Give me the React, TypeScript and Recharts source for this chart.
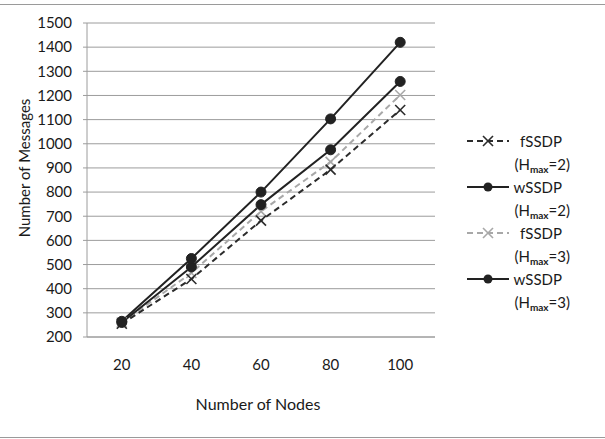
import React from "react";
import { LineChart, Line, XAxis, YAxis, CartesianGrid } from "recharts";

// values
const nodes = [20, 40, 60, 80, 100];
const fssdpH2 = [255, 440, 682, 893, 1140];
const wssdpH2 = [260, 490, 748, 975, 1258];
const fssdpH3 = [260, 465, 720, 925, 1202];
const wssdpH3 = [265, 525, 800, 1103, 1420];

const yTicks = [200, 300, 400, 500, 600, 700, 800, 900, 1000, 1100, 1200, 1300, 1400, 1500];
const xTicks = [20, 40, 60, 80, 100];
// Excel puts the x tick marks between the categories
const xBoundaries = [10, 30, 50, 70, 90, 110];

const FONT = "Lato, 'Open Sans', sans-serif";
const TEXT = "#1a1a1a";

const data = nodes.map((n, i) => ({
  nodes: n,
  f2: fssdpH2[i],
  w2: wssdpH2[i],
  f3: fssdpH3[i],
  w3: wssdpH3[i],
}));

const series = [
  { key: "f2", name: "fSSDP", sub: "=2)", color: "#2b2b2b", dash: "6 4", marker: "x" },
  { key: "w2", name: "wSSDP", sub: "=2)", color: "#222222", dash: undefined, marker: "o" },
  { key: "f3", name: "fSSDP", sub: "=3)", color: "#a8a8a8", dash: "6 4", marker: "x" },
  { key: "w3", name: "wSSDP", sub: "=3)", color: "#222222", dash: undefined, marker: "o" },
];

const XDot = (props: any) => {
  const { cx, cy, stroke, index } = props;
  if (cx == null || cy == null) return null;
  const s = 5;
  return (
    <g key={`x-${index}`}>
      <line x1={cx - s} y1={cy - s} x2={cx + s} y2={cy + s} stroke={stroke} strokeWidth={1.6} />
      <line x1={cx - s} y1={cy + s} x2={cx + s} y2={cy - s} stroke={stroke} strokeWidth={1.6} />
    </g>
  );
};

const YTitle = ({ viewBox }: any) => {
  const x = viewBox.x + 24;
  const y = viewBox.y + viewBox.height / 2 - 12;
  return (
    <text
      x={x}
      y={y}
      transform={`rotate(-90 ${x} ${y})`}
      textAnchor="middle"
      dominantBaseline="central"
      fontFamily={FONT}
      fontSize={15}
      fill={TEXT}
    >
      Number of Messages
    </text>
  );
};

const XTitle = ({ viewBox }: any) => (
  <text
    x={viewBox.x + viewBox.width / 2 - 3}
    y={viewBox.y + 66}
    textAnchor="middle"
    dominantBaseline="central"
    fontFamily={FONT}
    fontSize={16}
    fill={TEXT}
  >
    Number of Nodes
  </text>
);

const Sample = ({ color, dash, marker }: any) => (
  <svg width={44} height={14} style={{ display: "block" }}>
    <line x1={1} y1={7} x2={43} y2={7} stroke={color} strokeWidth={2} strokeDasharray={dash} />
    {marker === "o" ? (
      <circle cx={22} cy={7} r={4.5} fill={color} />
    ) : (
      <XDot cx={22} cy={7} stroke={color} />
    )}
  </svg>
);

export default function App() {
  return (
    <div
      style={{
        position: "absolute",
        left: 0,
        top: 0,
        width: 605,
        height: 439,
        background: "#fff",
        fontFamily: FONT,
        overflow: "hidden",
      }}
    >
      <div style={{ position: "absolute", left: 0, top: 4, width: 605, borderTop: "1px solid #9a9a9a" }} />
      <div style={{ position: "absolute", left: 0, top: 437, width: 605, borderTop: "1px solid #9a9a9a" }} />

      <LineChart
        width={605}
        height={439}
        data={data}
        margin={{ top: 23, right: 170, bottom: 0, left: 0 }}
      >
        <CartesianGrid horizontal vertical={false} stroke="#9c9c9c" />
        <XAxis
          xAxisId="bnd"
          dataKey="nodes"
          type="number"
          domain={[10, 110]}
          ticks={xBoundaries}
          height={0}
          axisLine={false}
          tickLine={{ stroke: "#9c9c9c" }}
          tickSize={4}
          tickFormatter={() => ""}
        />
        <XAxis
          dataKey="nodes"
          type="number"
          domain={[10, 110]}
          ticks={xTicks}
          height={102}
          axisLine={{ stroke: "#9c9c9c" }}
          tickLine={false}
          tickSize={4}
          tickMargin={18}
          tick={{ fontFamily: FONT, fontSize: 15, fill: TEXT }}
          label={<XTitle />}
        />
        <YAxis
          type="number"
          domain={[200, 1500]}
          ticks={yTicks}
          width={87}
          axisLine={{ stroke: "#9c9c9c" }}
          tickLine={{ stroke: "#9c9c9c" }}
          tickSize={4}
          tickMargin={11}
          tick={{ fontFamily: FONT, fontSize: 15, fill: TEXT }}
          label={<YTitle />}
        />
        {[series[2], series[0], series[1], series[3]].map((s) => (
          <Line
            key={s.key}
            dataKey={s.key}
            name={s.name}
            stroke={s.color}
            strokeWidth={2}
            strokeDasharray={s.dash}
            isAnimationActive={false}
            dot={
              s.marker === "o"
                ? { r: 5, fill: s.color, stroke: s.color, strokeWidth: 1 }
                : (p: any) => <XDot {...p} stroke={s.color} key={`${s.key}-${p.index}`} />
            }
            activeDot={false}
          />
        ))}
      </LineChart>

      <div style={{ position: "absolute", left: 466, top: 131, width: 104, color: TEXT, fontSize: 15 }}>
        {series.map((s) => (
          <div key={s.key} style={{ height: 46 }}>
            <div style={{ display: "flex", alignItems: "center", height: 20, paddingRight: 8 }}>
              <Sample color={s.color} dash={s.dash} marker={s.marker} />
              <span style={{ flex: 1, textAlign: "right", lineHeight: "20px" }}>{s.name}</span>
            </div>
            <div style={{ textAlign: "right", height: 26, lineHeight: "26px" }}>
              (H
              <span style={{ fontSize: 10, fontWeight: 700, position: "relative", top: 3 }}>max</span>
              {s.sub}
            </div>
          </div>
        ))}
      </div>
    </div>
  );
}
